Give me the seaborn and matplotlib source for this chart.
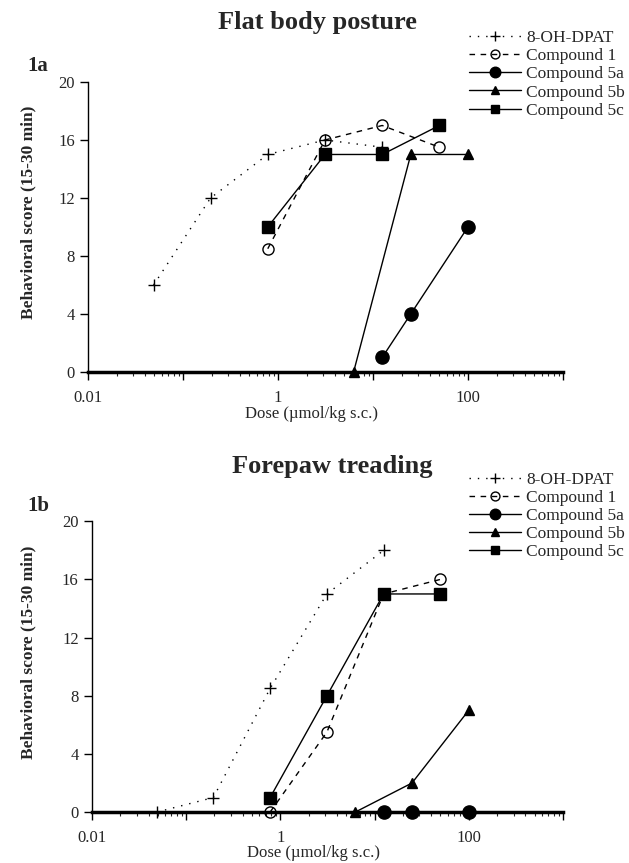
import matplotlib
matplotlib.use('Agg')
import matplotlib.pyplot as plt
import matplotlib.ticker as mticker
import seaborn as sns

sns.set_style('ticks')
plt.rcParams['font.family'] = ['Liberation Serif', 'DejaVu Serif']

# doses (umol/kg s.c.)
dpat_dose = [0.049, 0.195, 0.78, 3.125, 12.5]
c1_dose = [0.78, 3.125, 12.5, 50]
c5a_dose = [12.5, 25, 100]
c5b_dose = [6.25, 25, 100]
c5c_dose = [0.78, 3.125, 12.5, 50]

# 1a flat body posture
flat_dpat = [6, 12, 15, 16, 15.5]
flat_c1 = [8.5, 16, 17, 15.5]
flat_5a = [1, 4, 10]
flat_5b = [0, 15, 15]
flat_5c = [10, 15, 15, 17]

# 1b forepaw treading
tread_dpat = [0, 1, 8.5, 15, 18]
tread_c1 = [0, 5.5, 15, 16]
tread_5a = [0, 0, 0]
tread_5b = [0, 2, 7]
tread_5c = [1, 8, 15, 15]

series_names = ['8-OH-DPAT', 'Compound 1', 'Compound 5a', 'Compound 5b', 'Compound 5c']
x_ticklabels = {0.01: '0.01', 1: '1', 100: '100'}

styles = [
    dict(marker='+', ms=9, mew=1.0, mfc='black', linestyle=(0, (1, 5)), lw=1.0),
    dict(marker='o', ms=8, mew=1.0, mfc='none', linestyle=(0, (4, 4)), lw=1.0),
    dict(marker='o', ms=9.5, mew=1.0, mfc='black', linestyle='-', lw=1.0),
    dict(marker='^', ms=7, mew=1.0, mfc='black', linestyle='-', lw=1.0),
    dict(marker='s', ms=8, mew=1.0, mfc='black', linestyle='-', lw=1.0),
]

fig = plt.figure(figsize=(6.29, 8.63), dpi=100)
ax_a = fig.add_axes([0.140, 0.569, 0.755, 0.336])
ax_b = fig.add_axes([0.146, 0.059, 0.749, 0.337])

doses = [dpat_dose, c1_dose, c5a_dose, c5b_dose, c5c_dose]
panels = [
    dict(ax=ax_a, vals=[flat_dpat, flat_c1, flat_5a, flat_5b, flat_5c],
         title='Flat body posture', tag='1a', tx=0.504, tdy=0.069, ldy=0.060,
         ylab_x=-0.108, xlab_y=-0.118),
    dict(ax=ax_b, vals=[tread_dpat, tread_c1, tread_5a, tread_5b, tread_5c],
         title='Forepaw treading', tag='1b', tx=0.528, tdy=0.064, ldy=0.057,
         ylab_x=-0.117, xlab_y=-0.112),
]

for p in panels:
    ax = p['ax']
    for d, v, name, st in zip(doses, p['vals'], series_names, styles):
        sns.lineplot(x=d, y=v, ax=ax, color='black', label=name, errorbar=None,
                     markeredgecolor='black', clip_on=False, zorder=3, **st)
    ax.set_xscale('log')
    ax.set_xlim(0.01, 1000)
    ax.set_ylim(0, 20)
    ax.set_yticks([0, 4, 8, 12, 16, 20])
    ax.xaxis.set_major_locator(mticker.LogLocator(base=10, numticks=10))
    ax.xaxis.set_minor_locator(mticker.LogLocator(base=10, subs=range(2, 10), numticks=10))
    ax.xaxis.set_major_formatter(mticker.FuncFormatter(
        lambda x, pos: x_ticklabels.get(round(x, 4), '')))
    ax.xaxis.set_minor_formatter(mticker.NullFormatter())
    ax.tick_params(axis='both', which='major', labelsize=12, length=6, width=1, color='black')
    ax.tick_params(axis='x', which='major', pad=7)
    ax.tick_params(axis='x', which='minor', length=3, width=0.8)
    sns.despine(ax=ax)
    ax.spines['bottom'].set_linewidth(2.5)
    ax.spines['left'].set_linewidth(1.0)
    ax.spines['bottom'].set_color('black')
    ax.spines['left'].set_color('black')
    ax.set_xlabel('Dose (\u00b5mol/kg s.c.)', fontsize=12)
    ax.set_ylabel('Behavioral score (15-30 min)', fontsize=12.5, fontweight='bold')
    ax.yaxis.set_label_coords(p['ylab_x'], 0.55)
    ax.xaxis.set_label_coords(0.47, p['xlab_y'])
    handles, labels = ax.get_legend_handles_labels()
    ax.get_legend().remove()
    bbox = ax.get_position()
    fig.legend(handles, labels, loc='upper left',
               bbox_to_anchor=(0.745, bbox.y1 + p['ldy']), frameon=False,
               fontsize=12.5, handlelength=3.0, handletextpad=0.3, markerscale=0.8,
               labelspacing=0.11, borderpad=0, borderaxespad=0)
    fig.text(p['tx'], bbox.y1 + p['tdy'], p['title'], ha='center', va='center',
             fontsize=19, fontweight='bold')
    fig.text(0.044, bbox.y1 + 0.018, p['tag'], ha='left', va='center',
             fontsize=15, fontweight='bold')

fig.savefig('out.png', dpi=100)
